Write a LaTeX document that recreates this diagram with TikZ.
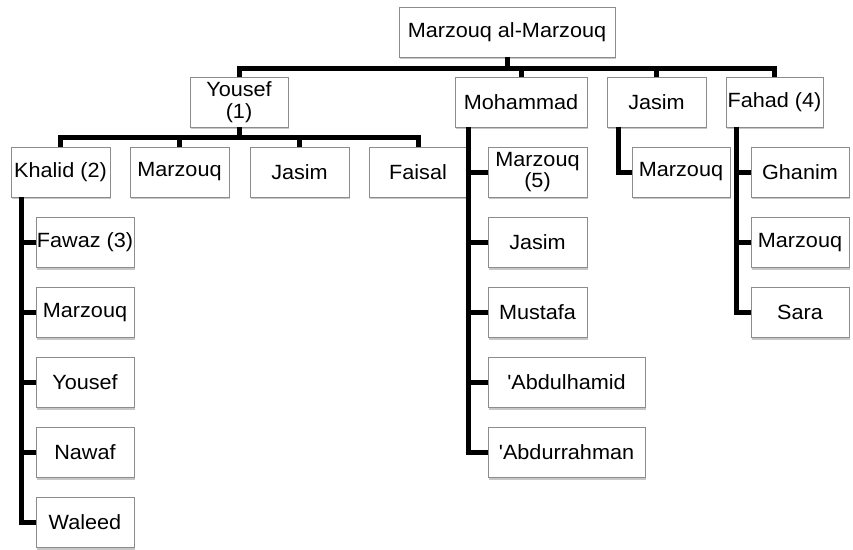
\documentclass[tikz,border=0pt]{standalone}
\usepackage{fontspec}
\setmainfont[FakeStretch=1.05, Ligatures=TeXOff]{Liberation Sans}
\usetikzlibrary{shadows}
\begin{document}
\begin{tikzpicture}[x=1pt,y=-1pt,
  box/.style={draw=black!45, line width=0.8pt, fill=white, minimum height=50pt, minimum width=99pt,
    inner sep=0pt, align=center, font=\fontsize{20.6}{21.5}\selectfont,
    drop shadow={shadow xshift=1.2pt, shadow yshift=-2pt, fill=black, opacity=0.22}},
  link/.style={line width=5pt, line join=miter}]
\useasboundingbox (0,0) rectangle (853,549);
% level 0
\node[box, minimum width=216pt] (root) at (507,32) {Marzouq al-Marzouq};
% level 1
\node[box, minimum width=98pt] (yousef) at (239,102) {Yousef\\(1)};
\node[box, minimum width=132pt] (mohammad) at (521,102) {Mohammad};
\node[box] (jasimA) at (656.5,102) {Jasim};
\node[box, minimum width=97pt] (fahad) at (774.5,102) {Fahad (4)};
% level 2
\node[box] (khalid) at (60.5,172) {Khalid (2)};
\node[box] (marzA) at (179.5,172) {Marzouq};
\node[box] (jasimB) at (299.5,172) {Jasim};
\node[box, minimum width=98pt] (faisal) at (418,172) {Faisal};
\node[box] (marz5) at (537.5,172) {Marzouq\\(5)};
\node[box, minimum width=98pt] (marzJ) at (681,172) {Marzouq};
\node[box, minimum width=98pt] (ghanim) at (800,172) {Ghanim};
% Khalid's children
\node[box, minimum width=98pt] (fawaz) at (85,242.5) {Fawaz (3)};
\node[box, minimum width=98pt] (marzK) at (85,312.5) {Marzouq};
\node[box, minimum width=98pt] (yousefK) at (85,382.5) {Yousef};
\node[box, minimum width=98pt] (nawaf) at (85,452.5) {Nawaf};
\node[box, minimum width=98pt] (waleed) at (85,522.5) {Waleed};
% Mohammad's children
\node[box] (jasimM) at (537.5,242.5) {Jasim};
\node[box] (mustafa) at (537.5,312.5) {Mustafa};
\node[box, minimum width=157pt] (abdulhamid) at (566.5,382.5) {'Abdulhamid};
\node[box, minimum width=157pt] (abdurrahman) at (566.5,452.5) {'Abdurrahman};
% Fahad's children
\node[box, minimum width=98pt] (marzF) at (800,242.5) {Marzouq};
\node[box, minimum width=98pt] (sara) at (800,312.5) {Sara};
% connectors
\coordinate (top) at (507,68);
\draw[link] (root.south) -- (top);
\draw[link] (yousef.north) |- (fahad.north |- top) -- (fahad.north);
\draw[link] (mohammad.north) -- (mohammad.north |- top);
\draw[link] (jasimA.north) -- (jasimA.north |- top);
\coordinate (ybus) at (239,137);
\draw[link] (yousef.south) -- (ybus);
\draw[link] (khalid.north) |- (faisal.north |- ybus) -- (faisal.north);
\draw[link] (marzA.north) -- (marzA.north |- ybus);
\draw[link] (jasimB.north) -- (jasimB.north |- ybus);
% Khalid
\coordinate (kt) at (21,197);
\draw[link] (kt) |- (waleed.west);
\foreach \n in {fawaz,marzK,yousefK,nawaf} \draw[link] (kt |- \n.west) -- (\n.west);
% Mohammad
\coordinate (mt) at (468,127);
\draw[link] (mt) |- (abdurrahman.west);
\foreach \n in {marz5,jasimM,mustafa,abdulhamid} \draw[link] (mt |- \n.west) -- (\n.west);
% Jasim
\coordinate (jt) at (618,127);
\draw[link] (jt) |- (marzJ.west);
% Fahad
\coordinate (ft) at (736,127);
\draw[link] (ft) |- (sara.west);
\foreach \n in {ghanim,marzF} \draw[link] (ft |- \n.west) -- (\n.west);
\end{tikzpicture}
\end{document}
